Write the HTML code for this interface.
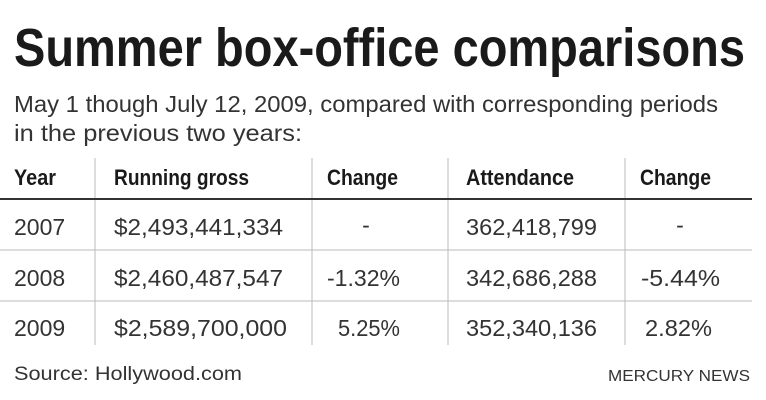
<!DOCTYPE html>
<html><head><meta charset="utf-8"><style>
html,body{margin:0;padding:0;background:#fff;}
svg{display:block;font-family:"Liberation Sans",sans-serif;}
</style></head><body>
<svg width="766" height="400" viewBox="0 0 766 400">
<text x="14" y="66" font-size="54" font-weight="bold" fill="#1a1a1a" textLength="731" lengthAdjust="spacingAndGlyphs">Summer box-office comparisons</text>
<text x="14" y="112" font-size="23" fill="#333" textLength="704" lengthAdjust="spacingAndGlyphs">May 1 though July 12, 2009, compared with corresponding periods</text>
<text x="14" y="141" font-size="23" fill="#333" textLength="288" lengthAdjust="spacingAndGlyphs">in the previous two years:</text>

<g stroke="#bbb" stroke-width="1">
<line x1="95" y1="158" x2="95" y2="345"/>
<line x1="312" y1="158" x2="312" y2="345"/>
<line x1="448" y1="158" x2="448" y2="345"/>
<line x1="625" y1="158" x2="625" y2="345"/>
</g>
<line x1="0" y1="199" x2="752" y2="199" stroke="#333" stroke-width="2"/>
<line x1="0" y1="250" x2="752" y2="250" stroke="#bbb" stroke-width="1"/>
<line x1="0" y1="301" x2="752" y2="301" stroke="#bbb" stroke-width="1"/>

<g font-size="22" font-weight="bold" fill="#1a1a1a">
<text x="14" y="185" textLength="42" lengthAdjust="spacingAndGlyphs">Year</text>
<text x="114" y="185" textLength="135" lengthAdjust="spacingAndGlyphs">Running gross</text>
<text x="327" y="185" textLength="71" lengthAdjust="spacingAndGlyphs">Change</text>
<text x="466" y="185" textLength="108" lengthAdjust="spacingAndGlyphs">Attendance</text>
<text x="640" y="185" textLength="71" lengthAdjust="spacingAndGlyphs">Change</text>
</g>

<g font-size="23" fill="#333">
<text x="14" y="235">2007</text>
<text x="114" y="235" textLength="169" lengthAdjust="spacingAndGlyphs">$2,493,441,334</text>
<text x="366" y="233" text-anchor="middle">-</text>
<text x="466" y="235" textLength="131" lengthAdjust="spacingAndGlyphs">362,418,799</text>
<text x="680" y="233" text-anchor="middle">-</text>
</g>
<g font-size="23" fill="#333">
<text x="14" y="286">2008</text>
<text x="114" y="286" textLength="169" lengthAdjust="spacingAndGlyphs">$2,460,487,547</text>
<text x="327" y="286" textLength="73" lengthAdjust="spacingAndGlyphs">-1.32%</text>
<text x="466" y="286" textLength="131" lengthAdjust="spacingAndGlyphs">342,686,288</text>
<text x="641" y="286" textLength="79" lengthAdjust="spacingAndGlyphs">-5.44%</text>
</g>
<g font-size="23" fill="#333">
<text x="14" y="336">2009</text>
<text x="114" y="336" textLength="173" lengthAdjust="spacingAndGlyphs">$2,589,700,000</text>
<text x="338" y="336" textLength="62" lengthAdjust="spacingAndGlyphs">5.25%</text>
<text x="466" y="336" textLength="131" lengthAdjust="spacingAndGlyphs">352,340,136</text>
<text x="645" y="336" textLength="67" lengthAdjust="spacingAndGlyphs">2.82%</text>
</g>

<text x="14" y="380" font-size="19" fill="#333" textLength="228" lengthAdjust="spacingAndGlyphs">Source: Hollywood.com</text>
<text x="750" y="381" font-size="16" fill="#333" text-anchor="end" textLength="142" lengthAdjust="spacingAndGlyphs">MERCURY NEWS</text>
</svg>
</body></html>
